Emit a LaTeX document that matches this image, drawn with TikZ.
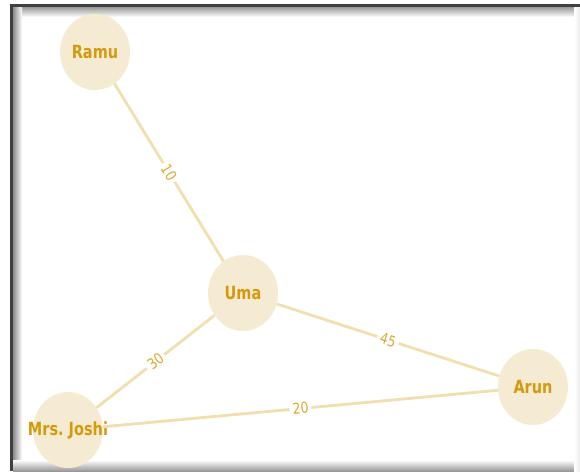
\documentclass[tikz,border=0pt]{standalone}
\usepackage{fontspec}
\setmainfont{DejaVu Sans}
\usetikzlibrary{shapes.geometric}

\definecolor{nodefill}{HTML}{F5EAD2}
\definecolor{nodetext}{HTML}{D49A0C}
\definecolor{edgeline}{HTML}{F2DFB0}
\definecolor{edgetext}{HTML}{DDA830}

\newcommand{\who}[1]{\makebox[0pt]{\scalebox{1}[1.25]{#1}}}
\newcommand{\wt}[1]{\scalebox{1}[1.2]{#1}}

\begin{document}
\begin{tikzpicture}[x=1pt,y=-1pt,
                    person/.style={ellipse,fill=nodefill,minimum width=70pt,minimum height=76pt,
                      inner sep=0pt,text=nodetext,font=\fontsize{14.5}{16}\selectfont\bfseries},
                    link/.style={draw=edgeline,line width=2.8pt},
                    weight/.style={sloped,fill=white,inner sep=3pt,text=edgetext,
                      font=\fontsize{12.5}{14}\selectfont}]

\useasboundingbox (0,0) rectangle (580,471);
\fill[white] (0,0) rectangle (580,471);
% window frame
\shade[top color=black!40,bottom color=white] (13,7) rectangle (580,17);
\shade[left color=black!45,right color=white] (13,7) rectangle (22,471);
\shade[top color=white,bottom color=black!40] (13,460) rectangle (580,471);
\shade[left color=white,right color=black!8] (574,7) rectangle (580,471);
\fill[black!75] (10,4) rectangle (580,7);
\fill[black!75] (10,4) rectangle (13,471);

\node[person] (ramu)  at (95,52)   {\who{Ramu}};
\node[person] (uma)   at (243,293) {\who{Uma}};
\node[person] (joshi) at (68,430)  {\who{Mrs.\ Joshi}};
\node[person] (arun)  at (533,387) {\who{Arun}};

\path[link]
(ramu)  edge node[weight] {\wt{10}} (uma)
(joshi) edge node[weight] {\wt{30}} (uma)
(uma)   edge node[weight] {\wt{45}} (arun)
(joshi) edge node[weight] {\wt{20}} (arun);
\end{tikzpicture}
\end{document}
